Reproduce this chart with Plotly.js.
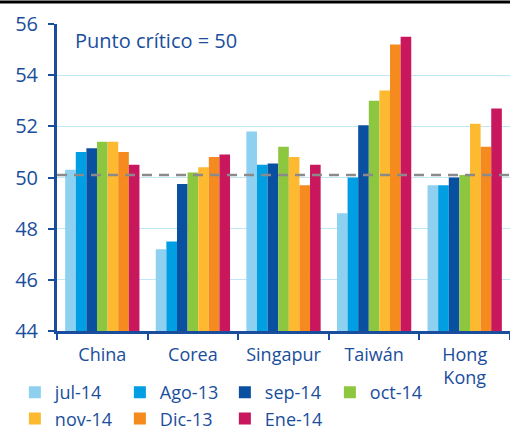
<!DOCTYPE html>
<html>
<head>
<meta charset="utf-8">
<script src="https://cdn.plot.ly/plotly-3.0.1.min.js"></script>
<style>
  html, body { margin: 0; padding: 0; background: #fff; }
  #chart { width: 510px; height: 430px; }
</style>
</head>
<body>
<div id="chart"></div>
<script>
const categories = ["China", "Corea", "Singapur", "Taiwán", "Hong<br>Kong"];
const seriesNames = ["jul-14", "Ago-13", "sep-14", "oct-14", "nov-14", "Dic-13", "Ene-14"];
const jul14 = [50.3, 47.2, 51.8, 48.6, 49.7];
const ago13 = [51.0, 47.5, 50.5, 50.0, 49.7];
const sep14 = [51.14, 49.75, 50.55, 52.04, 50.0];
const oct14 = [51.4, 50.2, 51.2, 53.0, 50.1];
const nov14 = [51.4, 50.4, 50.8, 53.4, 52.1];
const dic13 = [51.0, 50.8, 49.7, 55.2, 51.2];
const ene14 = [50.5, 50.9, 50.5, 55.5, 52.7];
const criticalLevel = 50.1;
const yTicks = [44, 46, 48, 50, 52, 54, 56];

const seriesValues = [jul14, ago13, sep14, oct14, nov14, dic13, ene14];
const colors = ["#8ed0f0", "#009fe3", "#0a50a1", "#8dc63f", "#fdba30", "#f58a1f", "#c9175e"];
const textColor = "#1a4e9c";
const font = "'Open Sans', 'Noto Sans', sans-serif";

const traces = seriesValues.map((vals, i) => ({
  type: "bar",
  name: seriesNames[i],
  x: categories,
  y: vals,
  marker: { color: colors[i], line: { width: 0 } }
}));

const layout = {
  width: 510,
  height: 430,
  margin: { l: 57, r: 0, t: 24, b: 99, autoexpand: false },
  paper_bgcolor: "#fff",
  plot_bgcolor: "#fff",
  barmode: "group",
  bargap: 0.18,
  bargroupgap: 0,
  font: { family: font, color: textColor },
  xaxis: {
    type: "category",
    showline: true,
    linecolor: textColor,
    linewidth: 3,
    ticks: "outside",
    tickson: "boundaries",
    ticklen: 6,
    tickwidth: 2,
    tickcolor: textColor,
    ticklabelstandoff: 5,
    tickfont: { size: 18, color: textColor, family: font },
    showgrid: false,
    zeroline: false
  },
  yaxis: {
    range: [44, 56],
    tickvals: yTicks,
    showline: true,
    linecolor: textColor,
    linewidth: 3,
    ticks: "outside",
    ticklen: 6,
    tickwidth: 2,
    tickcolor: textColor,
    ticklabelstandoff: 6,
    tickfont: { size: 20, color: textColor, family: font },
    showgrid: true,
    gridcolor: "#bfe7f6",
    gridwidth: 1,
    zeroline: false
  },
  shapes: [
    {
      type: "line", xref: "paper", yref: "y",
      x0: 0, x1: 1, y0: criticalLevel, y1: criticalLevel,
      line: { color: "#8a8a8a", width: 2.5, dash: "10px,7px" }
    },
    {
      type: "line", xref: "paper", yref: "paper",
      x0: -0.13, x1: 1.0, y0: 1.072, y1: 1.072,
      line: { color: "#000", width: 3 }
    }
  ],
  annotations: [
    {
      xref: "paper", yref: "paper",
      x: 0.036, y: 0.947, xanchor: "left", yanchor: "middle",
      text: "Punto crítico = 50",
      showarrow: false,
      font: { size: 20, color: textColor, family: font }
    }
  ],
  showlegend: true,
  legend: {
    orientation: "h",
    x: -0.093, xanchor: "left",
    y: -0.14, yanchor: "top",
    font: { size: 18, color: textColor, family: font },
    entrywidth: 60,
    entrywidthmode: "pixels",
    itemwidth: 30,
    bgcolor: "rgba(0,0,0,0)",
    traceorder: "normal"
  }
};

Plotly.newPlot("chart", traces, layout, { displayModeBar: false, staticPlot: true });
</script>
</body>
</html>
